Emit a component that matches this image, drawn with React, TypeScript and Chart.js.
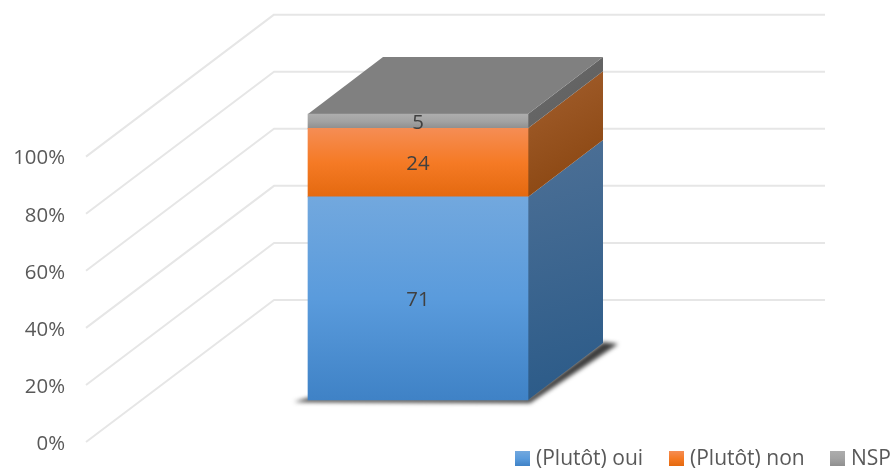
import React, { useEffect, useRef } from "react";
import { Chart, registerables } from "chart.js";

Chart.register(...registerables);

const categories = [""];
const seriesNames = ["(Plutôt) oui", "(Plutôt) non", "NSP"];
const oui = [71];
const non = [24];
const nsp = [5];
const yTicks = [0, 20, 40, 60, 80, 100];

const frontStops = [
  ["#72a8de", "#5a9bdc", "#3f82c6"],
  ["#f58d54", "#f57a25", "#e4690f"],
  ["#adadad", "#a3a3a3", "#8f8f8f"],
];
const sideStops = [
  ["#4d7096", "#2a5a88"],
  ["#a4602f", "#86420c"],
  ["#6a6a6a", "#5e5e5e"],
];
const topColor = "#808080";
const gridColor = "#e6e6e6";
const FONT = '"Open Sans"';

const DEPTH_X = 75;
const DEPTH_Y = -57;
const GRID_DX = 188;
const GRID_DY = -142;
const GRID_RIGHT = 825;

function vGrad(ctx: CanvasRenderingContext2D, y0: number, y1: number, stops: string[]) {
  const g = ctx.createLinearGradient(0, y0, 0, y1);
  stops.forEach((c, i) => g.addColorStop(i / (stops.length - 1), c));
  return g;
}

function poly(ctx: CanvasRenderingContext2D, pts: number[][], fill: any) {
  ctx.beginPath();
  pts.forEach((p, i) => (i ? ctx.lineTo(p[0], p[1]) : ctx.moveTo(p[0], p[1])));
  ctx.closePath();
  ctx.fillStyle = fill;
  ctx.fill();
}

const box3d = {
  id: "box3d",
  beforeDatasetsDraw(chart: any) {
    const { ctx, scales } = chart;
    const y = scales.y;
    ctx.save();
    ctx.strokeStyle = gridColor;
    ctx.lineWidth = 2;
    ctx.lineJoin = "round";
    yTicks.forEach((t) => {
      const py = y.getPixelForValue(t);
      const x0 = chart.chartArea.left;
      ctx.beginPath();
      ctx.moveTo(x0, py);
      ctx.lineTo(x0 + GRID_DX, py + GRID_DY);
      ctx.lineTo(GRID_RIGHT, py + GRID_DY);
      ctx.stroke();
    });

    const first = chart.getDatasetMeta(0).data[0];
    const l = first.x - first.width / 2;
    const r = first.x + first.width / 2;
    const b = first.base;

    // soft floor shadow
    ctx.save();
    ctx.filter = "blur(2px)";
    poly(
      ctx,
      [
        [l - 14, b + 2],
        [r + 2, b + 3],
        [r + DEPTH_X + 15, b + DEPTH_Y + 1],
        [r + DEPTH_X, b + DEPTH_Y - 1],
        [r, b - 2],
        [l, b - 2],
      ],
      "#3c3c3c"
    );
    ctx.restore();

    // side faces
    chart.data.datasets.forEach((_: any, i: number) => {
      const el = chart.getDatasetMeta(i).data[0];
      const g = ctx.createLinearGradient(r, el.y + DEPTH_Y, r + DEPTH_X, el.base);
      g.addColorStop(0, sideStops[i][0]);
      g.addColorStop(1, sideStops[i][1]);
      poly(
        ctx,
        [
          [r, el.y],
          [r + DEPTH_X, el.y + DEPTH_Y],
          [r + DEPTH_X, el.base + DEPTH_Y],
          [r, el.base],
        ],
        g
      );
    });

    // top face
    const last = chart.getDatasetMeta(chart.data.datasets.length - 1).data[0];
    poly(
      ctx,
      [
        [l, last.y],
        [l + DEPTH_X, last.y + DEPTH_Y],
        [r + DEPTH_X, last.y + DEPTH_Y],
        [r, last.y],
      ],
      topColor
    );
    ctx.restore();
  },
  afterDatasetsDraw(chart: any) {
    const { ctx } = chart;
    ctx.save();
    ctx.font = `20.4px ${FONT}`;
    ctx.fillStyle = "#404040";
    ctx.textAlign = "center";
    ctx.textBaseline = "middle";
    chart.data.datasets.forEach((ds: any, i: number) => {
      const el = chart.getDatasetMeta(i).data[0];
      ctx.fillText(String(ds.data[0]), el.x, (el.y + el.base) / 2 + 2);
    });
    ctx.restore();
  },
  afterDraw(chart: any) {
    const { ctx } = chart;
    const swatchX = [515, 669, 830];
    const top = 451;
    ctx.save();
    ctx.font = `21px ${FONT}`;
    ctx.textBaseline = "middle";
    ctx.textAlign = "left";
    chart.data.datasets.forEach((ds: any, i: number) => {
      ctx.fillStyle = vGrad(ctx, top, top + 15, frontStops[i]);
      ctx.fillRect(swatchX[i], top, 15, 15);
      ctx.fillStyle = "#595959";
      ctx.fillText(ds.label, swatchX[i] + 21, top + 8);
    });
    ctx.restore();
  },
};

export default function App() {
  const ref = useRef<HTMLCanvasElement>(null);
  useEffect(() => {
    const bg = (i: number) => (c: any) => {
      const s = c.chart.scales.y1;
      if (!s) return frontStops[i][1];
      const all = [oui, non, nsp];
      let lo = 0;
      for (let k = 0; k < i; k++) lo += all[k][0];
      const hi = lo + all[i][0];
      const p0 = s.getPixelForValue(hi);
      const p1 = s.getPixelForValue(lo);
      if (!Number.isFinite(p0) || !Number.isFinite(p1)) return frontStops[i][1];
      return vGrad(c.chart.ctx, p0, p1, frontStops[i]);
    };
    const mk = (i: number, data: number[]) => ({
      label: seriesNames[i],
      data,
      yAxisID: "y1",
      backgroundColor: bg(i),
      borderWidth: 0,
      barThickness: 220,
    });
    const chart = new Chart(ref.current!, {
      type: "bar",
      data: {
        labels: categories,
        datasets: [mk(0, oui), mk(1, non), mk(2, nsp)],
      },
      plugins: [box3d],
      options: {
        responsive: false,
        animation: false,
        layout: { padding: { top: 14, bottom: 29, right: 140, left: 0 } },
        plugins: { legend: { display: false }, tooltip: { enabled: false } },
        scales: {
          x: { display: false, stacked: true },
          y: {
            position: "left",
            min: 0,
            max: 150,
            border: { display: false },
            grid: { display: false },
            afterFit: (s: any) => {
              s.width = 86;
              s.paddingTop = 0;
              s.paddingBottom = 0;
            },
            afterBuildTicks: (s: any) => {
              s.ticks = yTicks.map((value) => ({ value }));
            },
            ticks: {
              padding: 13,
              labelOffset: 2,
              color: "#595959",
              font: { family: "Open Sans", size: 20.4 },
              callback: (v: any) => `${v}%`,
            },
          },
          y1: {
            display: false,
            stacked: true,
            min: -14.69,
            max: 134.97,
          },
        },
      } as any,
    } as any);
    chart.update();
    return () => chart.destroy();
  }, []);
  return (
    <div style={{ position: "absolute", left: 0, top: 0, width: 890, height: 471 }}>
      <canvas ref={ref} width={890} height={471} style={{ display: "block" }} />
    </div>
  );
}
